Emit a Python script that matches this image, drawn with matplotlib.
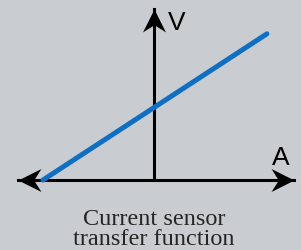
import matplotlib
matplotlib.use("Agg")
import matplotlib.pyplot as plt
from matplotlib.path import Path
from matplotlib.markers import MarkerStyle
from matplotlib.transforms import Affine2D

# transfer function: output voltage vs sensed current
current = [-3.0, 3.05]
voltage = [0.0, 3.95]

axis_labels = ["A", "V"]
caption = "Current sensor\ntransfer function"

bg = "#c9ccd0"

# barbed arrow head, tip at the origin, pointing right
head = Path([(0, 0), (-19, 9.5), (-13, 0), (-19, -9.5), (0, 0)],
            [Path.MOVETO, Path.LINETO, Path.LINETO, Path.LINETO, Path.CLOSEPOLY])

def arrow_marker(angle):
    return MarkerStyle(head, transform=Affine2D().rotate_deg(angle))

def main():
    fig = plt.figure(figsize=(3.01, 2.51), dpi=100, facecolor=bg)
    ax = fig.add_axes([0, 0, 1, 1])
    ax.set_facecolor(bg)
    ax.set_xlim(-4.16, 3.97)
    ax.set_ylim(-1.89, 4.89)
    ax.axis("off")

    x_end = [-3.68, 3.77]
    y_top = 4.63
    ax.plot(x_end, [0, 0], color="black", lw=2.2)
    ax.plot([0, 0], [0, y_top], color="black", lw=2.2)
    ms = 33
    ax.plot(x_end[1], 0, marker=arrow_marker(0), ms=ms, color="black", mew=0)
    ax.plot(x_end[0], 0, marker=arrow_marker(180), ms=ms, color="black", mew=0)
    ax.plot(0, y_top, marker=arrow_marker(90), ms=ms, color="black", mew=0)

    ax.plot(current, voltage, color="#0f6fc3", lw=3.6, solid_capstyle="round", zorder=3)

    ax.text(3.43, 0.62, axis_labels[0], fontsize=19, family="Liberation Sans",
            ha="center", va="center")
    ax.text(0.62, 4.27, axis_labels[1], fontsize=19, family="Liberation Sans",
            ha="center", va="center")

    ax.text(0, -1.30, caption, fontsize=17.5, family="Liberation Serif",
            color="#262626", ha="center", va="center", linespacing=0.95)

    fig.savefig("out.png", dpi=100, facecolor=bg)

if __name__ == "__main__":
    main()
